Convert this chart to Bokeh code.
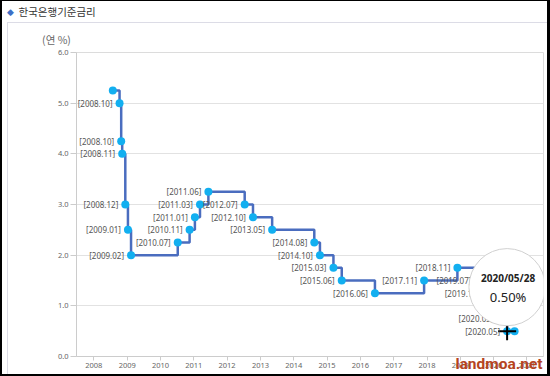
import pandas as pd
from bokeh.plotting import figure
from bokeh.models import (ColumnDataSource, LabelSet, Label, Range1d,
                          FixedTicker, DatetimeTickFormatter, NumeralTickFormatter)
from bokeh.core.properties import value
from bokeh.embed import file_html
from bokeh.resources import INLINE

# ---------------- data ----------------
title_text = "한국은행기준금리"
unit_text = "(연 %)"
watermark_text = "landmoa.net"

dates = ["2008-07-27", "2008-10-09", "2008-10-27", "2008-11-07", "2008-12-11",
         "2009-01-09", "2009-02-12", "2010-07-09", "2010-11-16", "2011-01-13",
         "2011-03-10", "2011-06-10", "2012-07-12", "2012-10-11", "2013-05-09",
         "2014-08-14", "2014-10-15", "2015-03-12", "2015-06-11", "2016-06-09",
         "2017-11-30", "2018-11-30", "2019-07-18", "2019-10-16", "2020-03-16",
         "2020-05-28", "2020-08-18"]
rates = [5.25, 5.00, 4.25, 4.00, 3.00,
         2.50, 2.00, 2.25, 2.50, 2.75,
         3.00, 3.25, 3.00, 2.75, 2.50,
         2.25, 2.00, 1.75, 1.50, 1.25,
         1.50, 1.75, 1.50, 1.25, 0.75,
         0.50, 0.50]
point_labels = ["", "[2008.10]", "[2008.10]", "[2008.11]", "[2008.12]",
                "[2009.01]", "[2009.02]", "[2010.07]", "[2010.11]", "[2011.01]",
                "[2011.03]", "[2011.06]", "[2012.07]", "[2012.10]", "[2013.05]",
                "[2014.08]", "[2014.10]", "[2015.03]", "[2015.06]", "[2016.06]",
                "[2017.11]", "[2018.11]", "[2019.07]", "[2019.10]", "[2020.03]",
                "[2020.05]", ""]
tick_years = list(range(2008, 2022))
y_ticks = [0, 1, 2, 3, 4, 5, 6]
tip_index = 25  # highlighted point (tooltip)

# ---------------- layout ----------------
W, H = 550, 376
FL, FR, FT, FB = 76, 543, 52, 356

xs = pd.to_datetime(dates)
src = ColumnDataSource(dict(x=xs, y=rates, label=point_labels))

p = figure(width=W, height=H, x_axis_type="datetime", output_backend="svg",
           toolbar_location=None,
           x_range=Range1d(pd.Timestamp("2007-06-25"), pd.Timestamp("2021-07-01")),
           y_range=Range1d(0, 6),
           min_border_left=FL, min_border_right=W - FR,
           min_border_top=FT, min_border_bottom=H - FB)
p.background_fill_color = "white"
p.border_fill_color = None   # let the page background (panel lines, frame) show
p.outline_line_color = "#dcdcdc"

# page decoration: black outer frame and the light panel border
g = "linear-gradient({0},{0})"
p.styles = {
    "background-color": "white",
    "background-image": ", ".join([g.format("black")] * 4 + [g.format("#dcdce6")] * 2),
    "background-position": "0 0, 0 0, right 0 top 0, left 0 bottom 0, 7px 22px, 7px 22px",
    "background-size": "100% 1px, 2px 100%, 3px 100%, 100% 2px, 1px 100%, 100% 1px",
    "background-repeat": "no-repeat",
}

# axes
tick_ms = [pd.Timestamp(f"{y}-01-01").timestamp() * 1000 for y in tick_years]
p.xaxis.ticker = FixedTicker(ticks=tick_ms)
p.xaxis.formatter = DatetimeTickFormatter(years="%Y", months="%Y", days="%Y")
p.yaxis.ticker = FixedTicker(ticks=y_ticks)
p.yaxis.formatter = NumeralTickFormatter(format="0.0")
for ax in (p.xaxis[0], p.yaxis[0]):
    ax.axis_line_color = "#cccccc"
    ax.major_tick_line_color = "#cccccc"
    ax.minor_tick_line_color = None
    ax.major_tick_in = 0
    ax.major_label_text_font = "Noto Sans"
    ax.major_label_text_font_size = "7.5px"
    ax.major_label_text_color = "#666666"
    ax.major_label_standoff = 2
p.xaxis.major_tick_out = 4
p.yaxis.major_tick_out = 6
p.xgrid.grid_line_color = None
p.ygrid.grid_line_color = "#e2e2e2"

# data
p.step("x", "y", source=src, mode="after", line_color="#4a6dbf", line_width=2.5)
p.scatter("x", "y", source=src, size=8, fill_color="#12aff0", line_color=None)
p.add_layout(LabelSet(x="x", y="y", text="label", source=src, x_offset=-7,
                      text_align="right", text_baseline="middle",
                      text_font=value("Noto Sans"), text_font_size="8px",
                      text_color="#555555"))

# tooltip circle + texts
tip_x = xs[tip_index].timestamp() * 1000
tip_y = rates[tip_index]
p.add_layout(Label(x=tip_x, y=tip_y, y_offset=44, text=" ", text_font_size="1px",
                   text_align="center", text_baseline="middle",
                   background_fill_color="white", border_line_color="#d0d0d0",
                   border_line_width=1, padding=38, border_radius=38))
p.add_layout(Label(x=tip_x, y=tip_y, x_offset=1, y_offset=53,
                   text=xs[tip_index].strftime("%Y/%m/%d"),
                   text_align="center", text_baseline="middle",
                   text_font="Noto Sans", text_font_style="bold",
                   text_font_size="10px", text_color="#222222"))
p.add_layout(Label(x=tip_x, y=tip_y, x_offset=1, y_offset=34,
                   text=f"{tip_y:.2f}%",
                   text_align="center", text_baseline="middle",
                   text_font="Noto Sans", text_font_size="13px",
                   text_color="#222222"))
p.scatter(x=[xs[tip_index]], y=[tip_y], marker="cross", size=18,
          line_color="black", line_width=2)

# texts outside the plot frame: side-panel labels in canvas pixel units
above_labels = [
    Label(x=18, y=11, x_units="canvas", y_units="canvas",
          text=title_text, text_align="left", text_baseline="middle",
          text_font="Noto Sans CJK KR", text_font_size="10.5px", text_color="#333333"),
    Label(x=542, y=363, x_units="canvas", y_units="canvas",
          text=watermark_text, text_align="right", text_baseline="middle",
          text_font="Roboto", text_font_style="bold",
          text_font_size="15.5px", text_color="#b5441e"),
]
left_labels = [
    Label(x=10, y=11, x_units="canvas", y_units="canvas",
          text="◆", text_align="center", text_baseline="middle",
          text_font="DejaVu Sans", text_font_size="9px", text_color="#3d6fc6"),
    Label(x=56, y=39, x_units="canvas", y_units="canvas",
          text=unit_text, text_align="center", text_baseline="middle",
          text_font="Noto Sans CJK KR", text_font_size="10.5px", text_color="#666666"),
]
for a in above_labels:
    p.add_layout(a, "above")
for a in left_labels:
    p.add_layout(a, "left")

open("out.html", "w").write(file_html(p, INLINE))
